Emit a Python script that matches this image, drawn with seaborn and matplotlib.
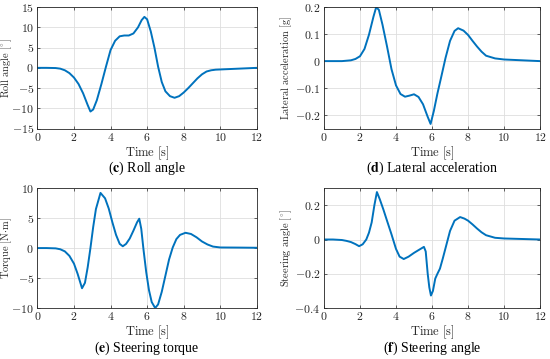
import matplotlib
matplotlib.use('Agg')
import matplotlib.pyplot as plt
from matplotlib.ticker import MultipleLocator, FuncFormatter
import seaborn as sns

# roll angle [deg]
t_roll = [0, 0.5, 1.0, 1.25, 1.5, 1.75, 2.0, 2.25, 2.5, 2.75, 2.9, 3.05, 3.25, 3.5, 3.75,
          4.0, 4.25, 4.5, 4.75, 5.0, 5.25, 5.5, 5.7, 5.85, 6.0, 6.2, 6.4, 6.6, 6.8, 7.0,
          7.25, 7.5, 7.75, 8.0, 8.25, 8.5, 8.75, 9.0, 9.25, 9.5, 9.75, 10.0, 10.5, 11.0,
          11.5, 12.0]
roll = [0, 0, -0.05, -0.2, -0.6, -1.3, -2.4, -4.0, -6.3, -9.2, -10.8, -10.3, -8.0, -4.0, 0.3,
        4.4, 6.7, 7.8, 8.0, 8.0, 8.5, 10.0, 11.8, 12.6, 12.0, 9.0, 5.0, 0.3, -3.5, -5.8,
        -7.0, -7.4, -7.0, -6.1, -5.0, -3.8, -2.6, -1.6, -0.9, -0.6, -0.45, -0.4, -0.3, -0.2,
        -0.1, 0.0]

# lateral acceleration [g]
t_lat = [0, 0.5, 1.0, 1.5, 1.75, 2.0, 2.25, 2.5, 2.75, 2.9, 3.05, 3.25, 3.5, 3.75, 4.0,
         4.25, 4.5, 4.75, 5.0, 5.25, 5.5, 5.75, 5.92, 6.1, 6.3, 6.5, 6.75, 7.0, 7.25, 7.45,
         7.75, 8.0, 8.25, 8.5, 8.75, 9.0, 9.5, 10.0, 11.0, 12.0]
lat_acc = [0, 0, 0, 0.003, 0.008, 0.018, 0.045, 0.098, 0.165, 0.2, 0.19, 0.135, 0.055, -0.03,
           -0.09, -0.122, -0.132, -0.128, -0.123, -0.133, -0.16, -0.205, -0.233, -0.185,
           -0.12, -0.062, 0.012, 0.075, 0.112, 0.122, 0.113, 0.097, 0.075, 0.054, 0.035,
           0.02, 0.01, 0.006, 0.003, 0.0]

# steering torque [N m]
t_tq = [0, 0.5, 1.0, 1.25, 1.5, 1.75, 2.0, 2.2, 2.44, 2.6, 2.75, 2.9, 3.05, 3.2, 3.45, 3.7,
        3.9, 4.1, 4.3, 4.5, 4.67, 4.85, 5.05, 5.25, 5.45, 5.57, 5.68, 5.8, 5.95, 6.1, 6.25,
        6.44, 6.6, 6.8, 7.0, 7.2, 7.4, 7.6, 7.8, 8.1, 8.4, 8.7, 9.0, 9.3, 9.6, 10.0, 11.0,
        12.0]
torque = [0, 0, -0.05, -0.2, -0.55, -1.3, -2.6, -4.3, -6.7, -5.8, -3.2, 0.0, 3.5, 6.5, 9.2,
          8.3, 6.6, 4.3, 2.2, 0.7, 0.3, 0.7, 1.6, 2.9, 4.3, 4.9, 3.2, -0.2, -4.0, -7.0, -9.0,
          -10.0, -9.4, -7.3, -4.6, -1.9, 0.1, 1.5, 2.2, 2.55, 2.35, 1.8, 1.1, 0.6, 0.25, 0.1,
          0.08, 0.05]

# steering angle [deg]
t_steer = [0, 0.5, 1.0, 1.25, 1.5, 1.75, 1.95, 2.15, 2.35, 2.5, 2.65, 2.8, 2.94, 3.1, 3.3,
           3.5, 3.75, 4.0, 4.2, 4.43, 4.7, 5.0, 5.25, 5.55, 5.65, 5.76, 5.85, 5.94, 6.05,
           6.18, 6.3, 6.44, 6.6, 6.8, 7.0, 7.25, 7.56, 7.8, 8.0, 8.25, 8.5, 8.75, 9.0, 9.5,
           10.0, 11.0, 12.0]
steer = [0, 0, -0.003, -0.008, -0.015, -0.027, -0.039, -0.028, 0.0, 0.04, 0.1, 0.2, 0.277,
         0.235, 0.175, 0.11, 0.03, -0.055, -0.1, -0.114, -0.1, -0.078, -0.062, -0.043, -0.07,
         -0.2, -0.28, -0.327, -0.3, -0.228, -0.2, -0.17, -0.11, -0.03, 0.05, 0.11, 0.131,
         0.122, 0.11, 0.088, 0.064, 0.042, 0.025, 0.01, 0.006, 0.003, 0.0]

panels = [
    (t_roll, roll, r'$\mathrm{Roll\ angle\ [^{\circ}]}$', (-15, 15), 5, 'c', 'Roll angle'),
    (t_lat, lat_acc, r'$\mathrm{Lateral\ acceleration\ [g]}$', (-0.25, 0.2), 0.1, 'd', 'Lateral acceleration'),
    (t_tq, torque, r'$\mathrm{Torque\ [N{\cdot}m]}$', (-10, 10), 5, 'e', 'Steering torque'),
    (t_steer, steer, r'$\mathrm{Steering\ angle\ [^{\circ}]}$', (-0.4, 0.3), 0.2, 'f', 'Steering angle'),
]

# axes boxes in figure fractions
boxes = [
    [0.068, 0.642, 0.399, 0.338],
    [0.589, 0.642, 0.393, 0.338],
    [0.068, 0.142, 0.399, 0.334],
    [0.589, 0.142, 0.393, 0.334],
]

sns.set_theme(style='whitegrid')
plt.rcParams['mathtext.fontset'] = 'cm'
plt.rcParams['font.family'] = ['Liberation Serif', 'DejaVu Serif']

LINE = '#0072BD'
DARK = '#262626'


def fmt(v, pos):
    v = round(v, 6)
    if v == 0:
        return r'$0$'
    return r'$%g$' % v


fig = plt.figure(figsize=(5.5, 3.59), dpi=100)
for i, ((t, y, ylab, ylim, step, letter, name), box) in enumerate(zip(panels, boxes)):
    ax = fig.add_axes(box)
    sns.lineplot(x=t, y=y, ax=ax, color=LINE, linewidth=1.4)
    ax.set_xlim(0, 12)
    ax.set_ylim(*ylim)
    ax.xaxis.set_major_locator(MultipleLocator(2))
    ax.yaxis.set_major_locator(MultipleLocator(step))
    ax.xaxis.set_major_formatter(FuncFormatter(fmt))
    ax.yaxis.set_major_formatter(FuncFormatter(fmt))
    ax.grid(True, color='#dedede', linewidth=0.6)
    for s in ax.spines.values():
        s.set_visible(True)
        s.set_color(DARK)
        s.set_linewidth(0.6)
    ax.tick_params(direction='in', length=2.5, width=0.5, colors=DARK, labelsize=8.5,
                   top=True, right=True, bottom=True, left=True, pad=2.5)
    ax.set_xlabel(r'$\mathrm{Time\ [s]}$', fontsize=9, color=DARK, labelpad=0)
    ax.set_ylabel(ylab, fontsize=7.5, color=DARK)
    if i % 2 == 0:
        ax.yaxis.set_label_coords(-0.105, 0.5)
    else:
        ax.yaxis.set_label_coords(-0.14, 0.5)
    cx = box[0] + box[2] / 2
    cy = box[1] - 0.112
    fig.text(cx, cy, r'($\mathbf{%s}$) %s' % (letter, name), ha='center', va='center',
             fontsize=10, color='black', math_fontfamily='stix')

fig.savefig('out.png', dpi=100)
